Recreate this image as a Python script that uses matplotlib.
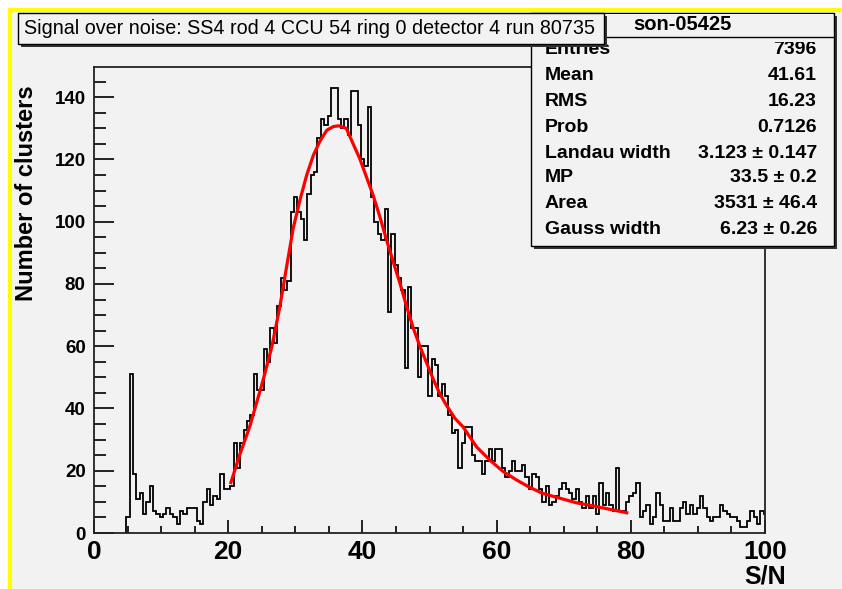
import numpy as np
import matplotlib.pyplot as plt
from matplotlib.patches import Rectangle
from matplotlib.ticker import MultipleLocator

plt.rcParams['font.family'] = ['Liberation Sans', 'DejaVu Sans']

# histogram, 0.5 wide bins starting at S/N 4.8
bin_start = 4.8
bin_width = 0.5
counts = [
    5, 51, 19, 11, 13, 6, 10, 15, 7, 6,
    5, 6, 8, 6, 5, 3, 7, 6, 8, 8,
    8, 4, 3, 10, 14, 9, 12, 11, 19, 14,
    14, 15, 29, 21, 29, 33, 36, 38, 51, 46,
    46, 59, 55, 66, 61, 73, 82, 78, 81, 103,
    108, 103, 101, 94, 109, 115, 116, 127, 133, 131,
    134, 143, 143, 133, 130, 133, 128, 142, 142, 131,
    120, 118, 137, 108, 100, 96, 94, 104, 71, 96,
    86, 82, 78, 53, 79, 66, 66, 50, 60, 60,
    44, 56, 54, 44, 48, 44, 38, 32, 33, 21,
    29, 34, 34, 25, 23, 23, 19, 23, 27, 23,
    27, 27, 21, 18, 20, 23, 20, 20, 22, 18,
    14, 19, 18, 14, 10, 15, 9, 10, 12, 14,
    16, 14, 13, 11, 14, 10, 8, 12, 8, 12,
    6, 16, 9, 13, 9, 7, 21, 7, 7, 10,
    12, 13, 16, 5, 7, 9, 3, 5, 13, 9,
    4, 4, 8, 4, 4, 8, 10, 6, 9, 6,
    8, 12, 8, 5, 4, 5, 5, 9, 7, 6,
    5, 5, 4, 2, 2, 4, 7, 5, 3, 7,
    6]

# langaus fit curve
fit_sn = [20.4, 21.7, 23.2, 24.2, 25.2, 26.5, 27.7, 28.7, 29.7, 30.7, 31.7, 32.7,
          33.7, 34.7, 35.7, 36.5, 37.6, 38.6, 39.6, 40.6, 41.6, 42.6, 43.6, 44.6,
          45.6, 46.6, 47.6, 48.6, 49.6, 50.5, 51.5, 52.5, 53.8, 55.0, 57.0, 59.0,
          61.0, 63.0, 64.9, 66.9, 68.9, 71.9, 74.4, 76.9, 79.4]
fit_val = [16.2, 25, 34.1, 41.6, 49.1, 59.8, 72.7, 85.5, 98, 107, 115, 121.4,
           126, 129.4, 130.6, 130.8, 130, 125.1, 120.3, 114.4, 108.5, 101.6, 94.1, 87.1,
           80.2, 72.7, 65.7, 59.8, 54.5, 49.7, 44.9, 41.1, 36.8, 34.1, 27.7, 23.4,
           19.7, 17.0, 14.7, 12.7, 11.5, 9.7, 8.7, 7.6, 6.5]

title = 'Signal over noise: SS4 rod 4 CCU 54 ring 0 detector 4 run 80735'
hist_name = 'son-05425'
stat_names = ['Entries', 'Mean', 'RMS', 'Prob', 'Landau width', 'MP', 'Area', 'Gauss width']
stat_values = ['7396', '41.61', '16.23', '0.7126', '3.123 ± 0.147', '33.5 ± 0.2',
               '3531 ± 46.4', '6.23 ± 0.26']

W, H = 842, 589
bg_col = '#f2f2f2'
fig = plt.figure(figsize=(W / 100, H / 100), dpi=100, facecolor='white')

# canvas background with yellow frame (pixel coords)
bg = fig.add_axes([0, 0, 1, 1], zorder=0)
bg.set_xlim(0, W)
bg.set_ylim(H, 0)
bg.axis('off')
bg.add_patch(Rectangle((10, 10), W, H, facecolor=bg_col, edgecolor='#ffff00', lw=3))

ax = fig.add_axes([94 / W, 1 - 533 / H, 671 / W, 466 / H], zorder=1)
ax.set_facecolor(bg_col)
edges = bin_start + bin_width * np.arange(len(counts) + 1)
ax.stairs(counts, edges, color='black', lw=1.3)
ax.plot(fit_sn, fit_val, color='red', lw=2.3)
ax.set_xlim(0, 100)
ax.set_ylim(0, 149.7)
ax.xaxis.set_major_locator(MultipleLocator(20))
ax.xaxis.set_minor_locator(MultipleLocator(5))
ax.yaxis.set_major_locator(MultipleLocator(20))
ax.yaxis.set_minor_locator(MultipleLocator(5))
ax.tick_params(axis='x', which='major', direction='in', length=9.5, width=1.2, pad=5,
               labelsize=19)
ax.tick_params(axis='x', which='minor', direction='in', length=5, width=1.2)
ax.tick_params(axis='y', which='major', direction='in', length=14.5, width=1.2, pad=6,
               labelsize=13.5)
ax.tick_params(axis='y', which='minor', direction='in', length=8.5, width=1.2)
for lab in ax.get_xticklabels() + ax.get_yticklabels():
    lab.set_fontweight('bold')
for sp in ax.spines.values():
    sp.set_linewidth(1.3)
    sp.set_color('#222222')

# boxes and labels on top
ov = fig.add_axes([0, 0, 1, 1], zorder=2)
ov.set_xlim(0, W)
ov.set_ylim(H, 0)
ov.axis('off')

ov.text(27, 85, 'Number of clusters', rotation=90, ha='center', va='top',
        fontsize=17, fontweight='bold')
ov.text(786, 577, 'S/N', ha='right', va='center', fontsize=18, fontweight='bold')

# stats box
ov.add_patch(Rectangle((534, 16), 303, 233, facecolor='#333333', edgecolor='none', zorder=1))
ov.add_patch(Rectangle((531, 13), 303, 233, facecolor=bg_col, edgecolor='black', lw=1, zorder=2))
row_y = [50, 75, 101, 127, 153, 178, 204, 230]
for name, val, y in zip(stat_names, stat_values, row_y):
    ov.text(545, y, name, ha='left', va='center', fontsize=14, fontweight='bold', zorder=3)
    ov.text(817, y, val, ha='right', va='center', fontsize=14, fontweight='bold', zorder=3)
ov.add_patch(Rectangle((532, 14), 301, 27.5, facecolor=bg_col, edgecolor='none', zorder=4))
ov.plot([531, 834], [37, 37], color='black', lw=1, zorder=5)
ov.text(682, 25, hist_name, ha='center', va='center', fontsize=14.5, fontweight='bold', zorder=5)

# title box
ov.add_patch(Rectangle((21, 16), 586, 31, facecolor='#333333', edgecolor='none', zorder=6))
ov.add_patch(Rectangle((18, 13), 586, 31, facecolor=bg_col, edgecolor='black', lw=1, zorder=7))
ov.text(24, 29, title, ha='left', va='center', fontsize=14.2, zorder=8)

fig.savefig('out.png', dpi=100, facecolor=fig.get_facecolor())
